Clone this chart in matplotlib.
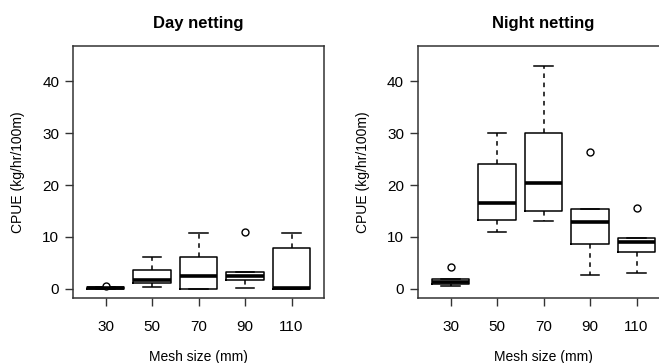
import matplotlib.pyplot as plt

plt.rcParams['font.family'] = ['Liberation Sans', 'DejaVu Sans']

mesh = ['30', '50', '70', '90', '110']

# Day netting: whisker low, Q1, median, Q3, whisker high, outliers
day_lo = [0.0, 0.4, 0.0, 0.1, 0.0]
day_q1 = [0.0, 1.1, 0.0, 1.7, 0.0]
day_med = [0.2, 1.6, 2.4, 2.5, 0.1]
day_q3 = [0.3, 3.7, 6.2, 3.3, 7.8]
day_hi = [0.3, 6.2, 10.8, 3.3, 10.8]
day_out = [[0.6], [], [], [11.0], []]

# Night netting
night_lo = [0.6, 11.0, 13.0, 2.7, 3.0]
night_q1 = [0.9, 13.3, 15.0, 8.7, 7.0]
night_med = [1.2, 16.5, 20.3, 12.8, 9.1]
night_q3 = [1.8, 24.0, 30.0, 15.4, 9.7]
night_hi = [1.8, 30.0, 43.0, 15.4, 9.7]
night_out = [[4.2], [], [], [26.3], [15.5]]


def make_stats(lo, q1, med, q3, hi, out):
    return [dict(whislo=a, q1=b, med=c, q3=d, whishi=e, fliers=f, label=l)
            for a, b, c, d, e, f, l in zip(lo, q1, med, q3, hi, out, mesh)]


fig = plt.figure(figsize=(6.59, 3.63), dpi=100)
ax1 = fig.add_axes([0.1108, 0.179, 0.381, 0.694])
ax2 = fig.add_axes([0.6343, 0.179, 0.381, 0.694])

panels = [
    (ax1, make_stats(day_lo, day_q1, day_med, day_q3, day_hi, day_out), 'Day netting'),
    (ax2, make_stats(night_lo, night_q1, night_med, night_q3, night_hi, night_out), 'Night netting'),
]

for ax, stats, title in panels:
    ax.bxp(stats, widths=0.8, showfliers=True,
           boxprops=dict(color='black', linewidth=1.1),
           medianprops=dict(color='black', linewidth=2.6, solid_capstyle='butt'),
           whiskerprops=dict(color='black', linewidth=1.1, linestyle=(0, (3, 3))),
           capprops=dict(color='black', linewidth=1.1),
           capwidths=0.4,
           flierprops=dict(marker='o', markersize=5, markerfacecolor='white',
                           markeredgecolor='black', markeredgewidth=1.0))
    ax.set_ylim(-1.8, 46.8)
    ax.set_xlim(0.3, 5.7)
    ax.set_yticks([0, 10, 20, 30, 40])
    ax.tick_params(axis='both', length=6, width=1, color='#333333',
                   labelsize=11, pad=4)
    ax.tick_params(axis='x', pad=10)
    for s in ax.spines.values():
        s.set_color('#333333')
        s.set_linewidth(1.1)
    ax.set_title(title, fontsize=12, fontweight='bold', pad=13)
    ax.set_xlabel('Mesh size (mm)', fontsize=10, labelpad=11)
    ax.set_ylabel('CPUE (kg/hr/100m)', fontsize=10, labelpad=12)

fig.savefig('out.png', dpi=100)
